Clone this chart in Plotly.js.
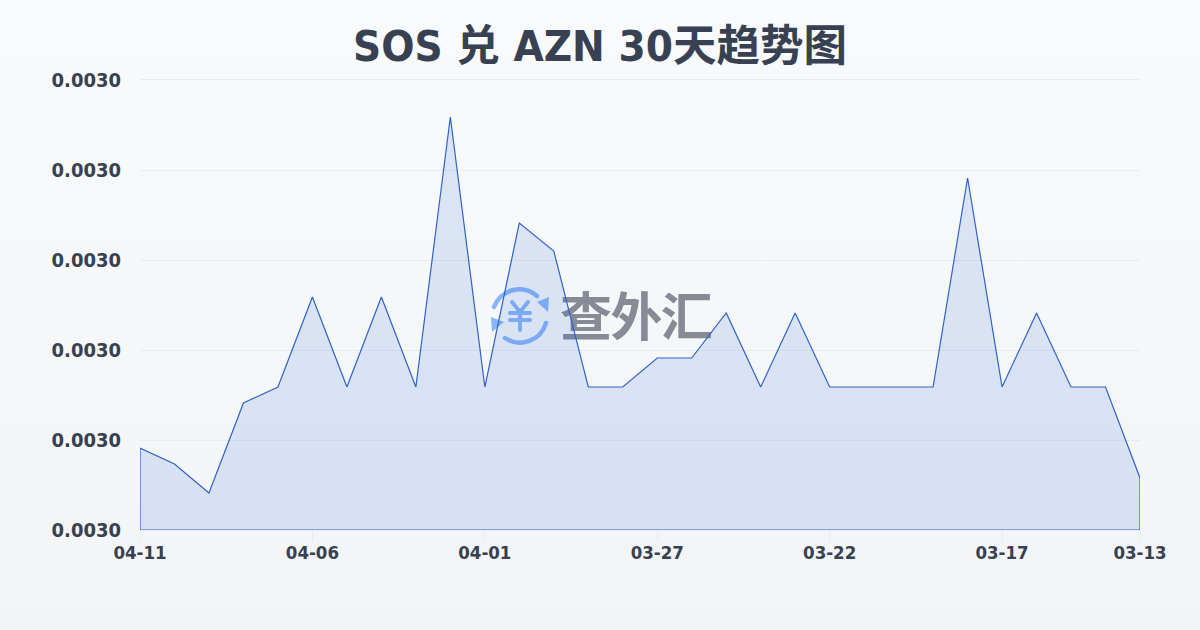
<!DOCTYPE html>
<html><head><meta charset="utf-8">
<script src="https://cdn.plot.ly/plotly-3.0.1.min.js"></script>
<style>
html,body{margin:0;padding:0;width:1200px;height:630px;overflow:hidden;background:linear-gradient(180deg,#f8fafc 0%,#f3f4f6 100%);}
#wm{position:absolute;left:560px;top:280px;font:700 52px/68px "Noto Sans CJK SC","Noto Sans",sans-serif;color:#868b95;letter-spacing:-1.6px;white-space:nowrap;z-index:0;}
#chart{position:absolute;left:0;top:0;width:1200px;height:630px;z-index:1;}
</style></head><body>
<div id="wm">查外汇</div>
<div id="chart"></div>
<script>
const dates=["04-11","04-10","04-09","04-08","04-07","04-06","04-05","04-04","04-03","04-02","04-01","03-31","03-30","03-29","03-28","03-27","03-26","03-25","03-24","03-23","03-22","03-21","03-20","03-19","03-18","03-17","03-16","03-15","03-14","03-13"];
const rates=[0.00297458,0.00297173,0.00296658,0.00298258,0.00298542,0.00300142,0.00298542,0.00300142,0.00298542,0.00303342,0.00298542,0.00301458,0.0030096,0.00298542,0.00298542,0.00299058,0.00299058,0.00299858,0.00298542,0.00299858,0.00298542,0.00298542,0.00298542,0.00298542,0.00302258,0.00298542,0.00299858,0.00298542,0.00298542,0.00296924];
const xTicks=["04-11","04-06","04-01","03-27","03-22","03-17","03-13"];
const yTicks=[0.00296,0.002976,0.002992,0.003008,0.003024,0.00304];
const yMin=0.00296,yMax=0.00304;
const title="SOS 兑 AZN 30天趋势图";
const font='"DejaVu Sans Condensed","Noto Sans CJK SC",sans-serif';
const first=dates[0],last=dates[dates.length-1];
const icon='data:image/svg+xml;utf8,'+encodeURIComponent('<svg xmlns="http://www.w3.org/2000/svg" viewBox="0 0 60 60"><g fill="none" stroke="#8ab4f8" stroke-width="4.5" stroke-linecap="round"><path d="M4 22A27 27 0 0 1 47 11"/><path d="M56 38A27 27 0 0 1 15 53"/><path d="M22 17l8 10 8-10M20 28h20M20 35h20M30 27v18" stroke-width="4"/></g><path d="M47 17L59 12L58 27zM1 32L14 37L2 47z" fill="#8ab4f8"/></svg>');
Plotly.newPlot('chart',[{
  type:'scatter',mode:'lines',cliponaxis:false,
  x:dates.concat([last,first,first]),
  y:rates.concat([yMin,yMin,rates[0]]),
  fill:'toself',fillcolor:'rgba(40,100,220,0.135)',
  line:{color:'#2f63c9',width:1.2,shape:'linear'},hoverinfo:'skip'
}],{
  width:1200,height:630,showlegend:false,
  paper_bgcolor:'rgba(0,0,0,0)',plot_bgcolor:'rgba(0,0,0,0)',
  margin:{l:140,r:60,t:80,b:100},
  title:{text:title,x:0.5,xanchor:'center',y:0.928,yanchor:'middle',font:{family:font,size:43.5,color:'#374151',weight:700}},
  xaxis:{type:'category',categoryorder:'array',categoryarray:dates,range:[0,dates.length-1],tickmode:'array',tickvals:xTicks,ticktext:xTicks,layer:'below traces',
    showgrid:false,zeroline:false,showline:true,mirror:true,linecolor:'#e9ebef',linewidth:1,ticks:'outside',ticklen:10,tickwidth:1,tickcolor:'#e9ebef',ticklabelstandoff:-4,
    tickfont:{family:font,size:18.5,color:'#374151',weight:700}},
  yaxis:{range:[yMin,yMax],tickmode:'array',tickvals:yTicks,ticktext:yTicks.map(v=>v.toFixed(4)),layer:'below traces',
    showgrid:true,gridcolor:'#e9ebef',gridwidth:1,zeroline:false,showline:false,ticks:'outside',ticklen:14,tickcolor:'rgba(0,0,0,0)',
    tickfont:{family:font,size:20,color:'#374151',weight:700}},
  images:[{source:icon,xref:'paper',yref:'paper',xanchor:'left',yanchor:'top',sizex:60/1000,sizey:60/450,
    x:(490-140)/1000,y:(530-285)/450,sizing:'stretch',layer:'below'}]
},{displayModeBar:false,staticPlot:true});
</script></body></html>
